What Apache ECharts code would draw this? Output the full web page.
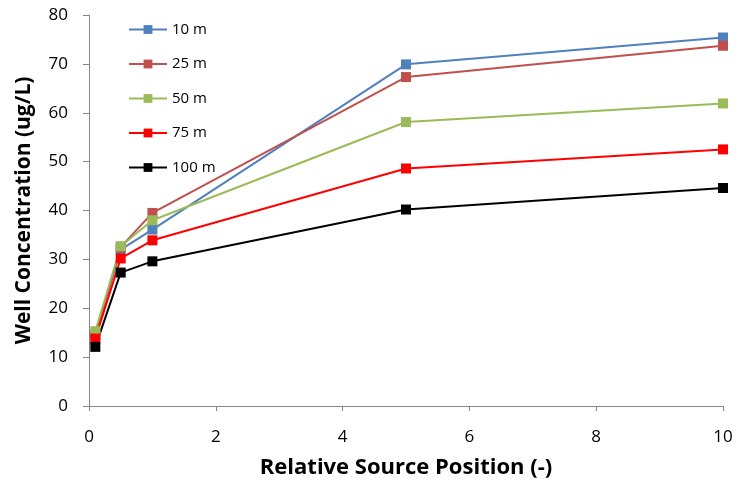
<!DOCTYPE html>
<html><head><meta charset="utf-8">
<script src="https://cdn.jsdelivr.net/npm/echarts@6/dist/echarts.min.js"></script>
<style>html,body{margin:0;padding:0;background:#fff}#c{width:736px;height:488px}</style>
</head><body><div id="c"></div>
<script>
const xPositions = [0.1, 0.5, 1, 5, 10];
const seriesNames = ['10 m', '25 m', '50 m', '75 m', '100 m'];
const s10 = [14.6, 32.0, 36.1, 69.9, 75.4];
const s25 = [14.4, 32.5, 39.5, 67.3, 73.7];
const s50 = [15.3, 32.7, 38.0, 58.1, 61.9];
const s75 = [13.8, 30.2, 33.9, 48.6, 52.5];
const s100 = [12.1, 27.3, 29.6, 40.2, 44.6];
const colors = ['#4F81BD', '#C0504D', '#9BBB59', '#FF0000', '#000000'];
const allValues = [s10, s25, s50, s75, s100];

const font = '"Open Sans", "Liberation Sans", sans-serif';
const chart = echarts.init(document.getElementById('c'));
chart.setOption({
  animation: false,
  grid: {left: 89, right: 13, top: 15, bottom: 82},
  legend: {
    orient: 'vertical', left: 128, top: 22, padding: 0,
    itemWidth: 38, itemHeight: 11, itemGap: 19.5,
    textStyle: {fontFamily: font, fontSize: 15, color: '#000', padding: [0, 0, 0, 0]},
    data: seriesNames
  },
  xAxis: {
    type: 'value', min: 0, max: 10, interval: 2,
    name: 'Relative Source Position (-)', nameLocation: 'middle', nameGap: 51,
    nameTextStyle: {fontFamily: font, fontSize: 22, fontWeight: 'bold', color: '#000'},
    axisLine: {lineStyle: {color: '#868686', width: 1}},
    axisTick: {show: true, inside: false, length: 5, lineStyle: {color: '#868686'}},
    axisLabel: {fontFamily: font, fontSize: 17, color: '#000', margin: 23},
    splitLine: {show: false}
  },
  yAxis: {
    type: 'value', min: 0, max: 80, interval: 10,
    name: 'Well Concentration (ug/L)', nameLocation: 'middle', nameGap: 54,
    nameTextStyle: {fontFamily: font, fontSize: 21, fontWeight: 'bold', color: '#000'},
    axisLine: {show: true, lineStyle: {color: '#868686', width: 1}},
    axisTick: {show: true, inside: false, length: 6, lineStyle: {color: '#868686'}},
    axisLabel: {fontFamily: font, fontSize: 17, color: '#000', margin: 21},
    splitLine: {show: false}
  },
  series: seriesNames.map((n, i) => ({
    name: n, type: 'line',
    data: xPositions.map((x, j) => [x, allValues[i][j]]),
    symbol: 'rect', symbolSize: 10, showAllSymbol: true,
    itemStyle: {color: colors[i]},
    lineStyle: {color: colors[i], width: 2}
  }))
});
</script></body></html>
